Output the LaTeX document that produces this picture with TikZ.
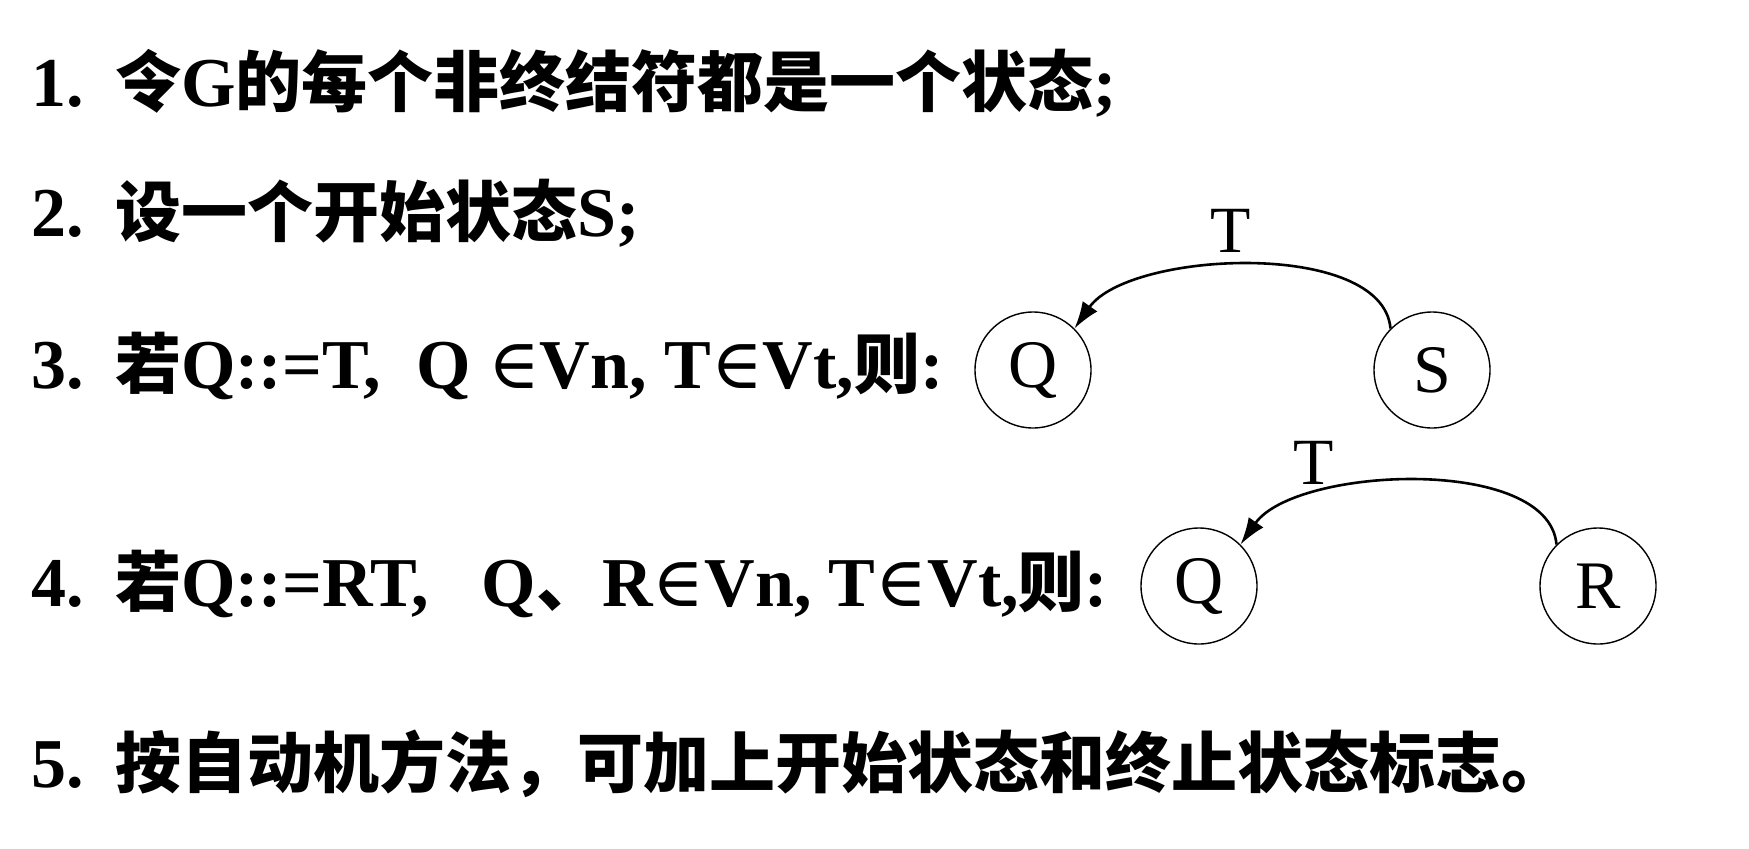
\documentclass[tikz,border=0pt]{standalone}
\usepackage{fontspec}
\setmainfont{Liberation Serif}
\newfontfamily\cjk{Noto Sans CJK SC}
\newfontfamily\symf{DejaVu Serif}
\usetikzlibrary{arrows.meta}
\newcommand\zh[1]{{\cjk\bfseries\fontsize{66}{78}\selectfont #1}}
\newcommand\elem{{\symf\mdseries ∈}}
\tikzset{
  textline/.style={anchor=base west, inner sep=0pt, font=\fontsize{70}{80}\selectfont\bfseries},
  state/.style={circle, draw, line width=1.4pt, minimum size=116pt, inner sep=0pt, font=\fontsize{68}{72}\selectfont},
  edgelabel/.style={inner sep=0pt, font=\fontsize{66}{72}\selectfont},
  edge/.style={line width=2.6pt, -{Latex[length=27pt,width=18pt]}}
}
\begin{document}
\begin{tikzpicture}[x=1pt,y=-1pt]
\useasboundingbox[fill=white] (0,0) rectangle (1749,849);
% numbers
\node[textline] (n1) at (31,106) {1.};
\node[textline] (n2) at (31,236) {2.};
\node[textline] (n3) at (31,388) {3.};
\node[textline] (n4) at (31,606) {4.};
\node[textline] (n5) at (31,787) {5.};
% texts
\node[textline] (t1) at (115,106) {\zh{令}G\zh{的每个非终结符都是一个状态};};
\node[textline] (t2) at (115,236) {\zh{设一个开始状态}S;};
\node[textline] (t3) at (115,388) {\zh{若}Q::=T,\ \ Q \elem Vn, T\elem Vt,\zh{则}:};
\node[textline] (t4) at (115,606) {\zh{若}Q::=RT,\ \ \ Q\zh{、}R\elem Vn, T\elem Vt,\zh{则}:};
\node[textline] (t5) at (115,787) {\zh{按自动机方法，可加上开始状态和终止状态标志。}};
% diagram for rule 3
\node[state] (q1) at (1033,370) {Q};
\node[state] (s) at (1432,370) {S};
\draw[edge] (s.135) .. controls +(-95:90) and +(-55:95) .. (q1.45);
\node[edgelabel] (lt1) at (1231,231) {T};
% diagram for rule 4
\node[state] (q2) at (1199,586) {Q};
\node[state] (r) at (1598,586) {R};
\draw[edge] (r.135) .. controls +(-95:90) and +(-55:95) .. (q2.45);
\node[edgelabel] (lt2) at (1314,463) {T};
\end{tikzpicture}
\end{document}
